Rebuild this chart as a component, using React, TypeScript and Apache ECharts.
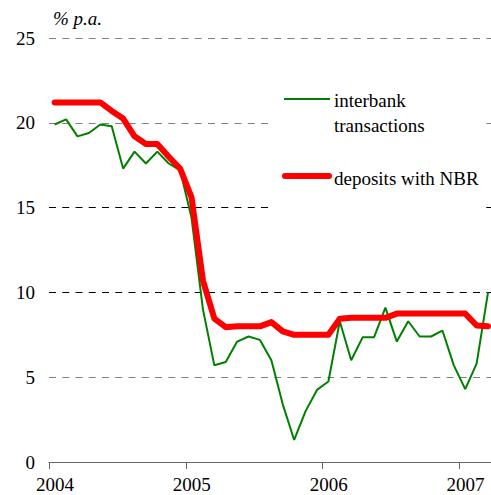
import React, { useEffect, useRef } from "react";
import * as echarts from "echarts";

const startYear = 2004;
const yTicks = [0, 5, 10, 15, 20, 25];
const xTickYears = [2004, 2005, 2006, 2007];
const seriesNames = ["interbank transactions", "deposits with NBR"];

// monthly values, Jan 2004 .. Mar 2007
const interbank = [
  19.9, 20.2, 19.2, 19.4, 19.9, 19.8, 17.3, 18.3, 17.6, 18.3, 17.6, 17.2,
  14.4, 9.0, 5.7, 5.9, 7.1, 7.4, 7.2, 6.0, 3.4, 1.3, 3.0, 4.25,
  4.75, 8.3, 6.0, 7.35, 7.35, 9.1, 7.1, 8.3, 7.4, 7.4, 7.75, 5.7,
  4.3, 5.8, 10.0,
];
const deposits = [
  21.2, 21.2, 21.2, 21.2, 21.2, 20.7, 20.25, 19.2, 18.75, 18.75, 18.0, 17.3,
  15.6, 10.7, 8.45, 7.95, 8.0, 8.0, 8.0, 8.25, 7.7, 7.5, 7.5, 7.5,
  7.5, 8.45, 8.5, 8.5, 8.5, 8.5, 8.75, 8.75, 8.75, 8.75, 8.75, 8.75,
  8.75, 8.05, 8.0,
];

const toPoints = (vals: number[]) =>
  vals.map((v, i) => [startYear + (i + 0.5) / 12, v]);

const FONT = "'Liberation Serif', 'Times New Roman', serif";

export default function App() {
  const ref = useRef<HTMLDivElement>(null);
  useEffect(() => {
    if (!ref.current) return;
    const chart = echarts.init(ref.current, null, { renderer: "svg" });
    const txt = (text: string, x: number, y: number, italic = false) => ({
      type: "text",
      z: 6,
      x,
      y,
      style: {
        text,
        fontFamily: FONT,
        fontSize: 19,
        fontStyle: italic ? "italic" : "normal",
        fill: "#000",
        textVerticalAlign: "middle",
      },
    });
    chart.setOption({
      animation: false,
      backgroundColor: "#ffffff",
      textStyle: { fontFamily: FONT },
      grid: { left: 49, right: 0, top: 38, bottom: 33, containLabel: false },
      xAxis: {
        type: "value",
        min: startYear,
        max: 2007.23,
        interval: 1,
        axisLine: { show: true, lineStyle: { color: "#666", width: 1 } },
        axisTick: {
          show: true,
          inside: false,
          length: 7,
          lineStyle: { color: "#666" },
        },
        axisLabel: {
          showMaxLabel: false,
          margin: 13,
          padding: [0, 0, 0, 12],
          color: "#000",
          fontFamily: FONT,
          fontSize: 19,
          formatter: (v: number) =>
            xTickYears.includes(Math.round(v)) && Math.abs(v - Math.round(v)) < 1e-6
              ? String(Math.round(v))
              : "",
        },
        splitLine: { show: false },
      },
      yAxis: {
        type: "value",
        min: yTicks[0],
        max: yTicks[yTicks.length - 1],
        interval: 5,
        axisLine: { show: false },
        axisTick: { show: false },
        axisLabel: {
          margin: 14,
          color: "#000",
          fontFamily: FONT,
          fontSize: 19,
        },
        splitLine: {
          show: true,
          lineStyle: {
            color: ["#666", "#808080", "#000", "#000", "#808080", "#808080"],
            width: 1,
            type: [7, 6.25],
          },
        },
      },
      graphic: [
        {
          type: "rect",
          z: 5,
          shape: { x: 272, y: 72, width: 213, height: 150 },
          style: { fill: "#ffffff" },
        },
        {
          type: "line",
          z: 6,
          shape: { x1: 284, y1: 99, x2: 330, y2: 99 },
          style: { stroke: "#008000", lineWidth: 2 },
        },
        txt("interbank", 334, 100),
        txt("transactions", 334, 125),
        {
          type: "line",
          z: 6,
          shape: { x1: 285, y1: 176, x2: 329, y2: 176 },
          style: { stroke: "#ff0000", lineWidth: 6, lineCap: "round" },
        },
        txt("deposits with NBR", 334, 178),
        txt("% p.a.", 53, 18, true),
      ],
      series: [
        {
          name: seriesNames[0],
          type: "line",
          data: toPoints(interbank),
          showSymbol: false,
          symbol: "none",
          lineStyle: { color: "#008000", width: 2 },
          z: 3,
        },
        {
          name: seriesNames[1],
          type: "line",
          data: toPoints(deposits),
          showSymbol: false,
          symbol: "none",
          lineStyle: { color: "#ff0000", width: 6, cap: "round", join: "round" },
          z: 4,
        },
      ],
    });
    return () => chart.dispose();
  }, []);
  return (
    <div
      ref={ref}
      style={{ position: "absolute", left: 0, top: 0, width: 491, height: 495 }}
    />
  );
}
